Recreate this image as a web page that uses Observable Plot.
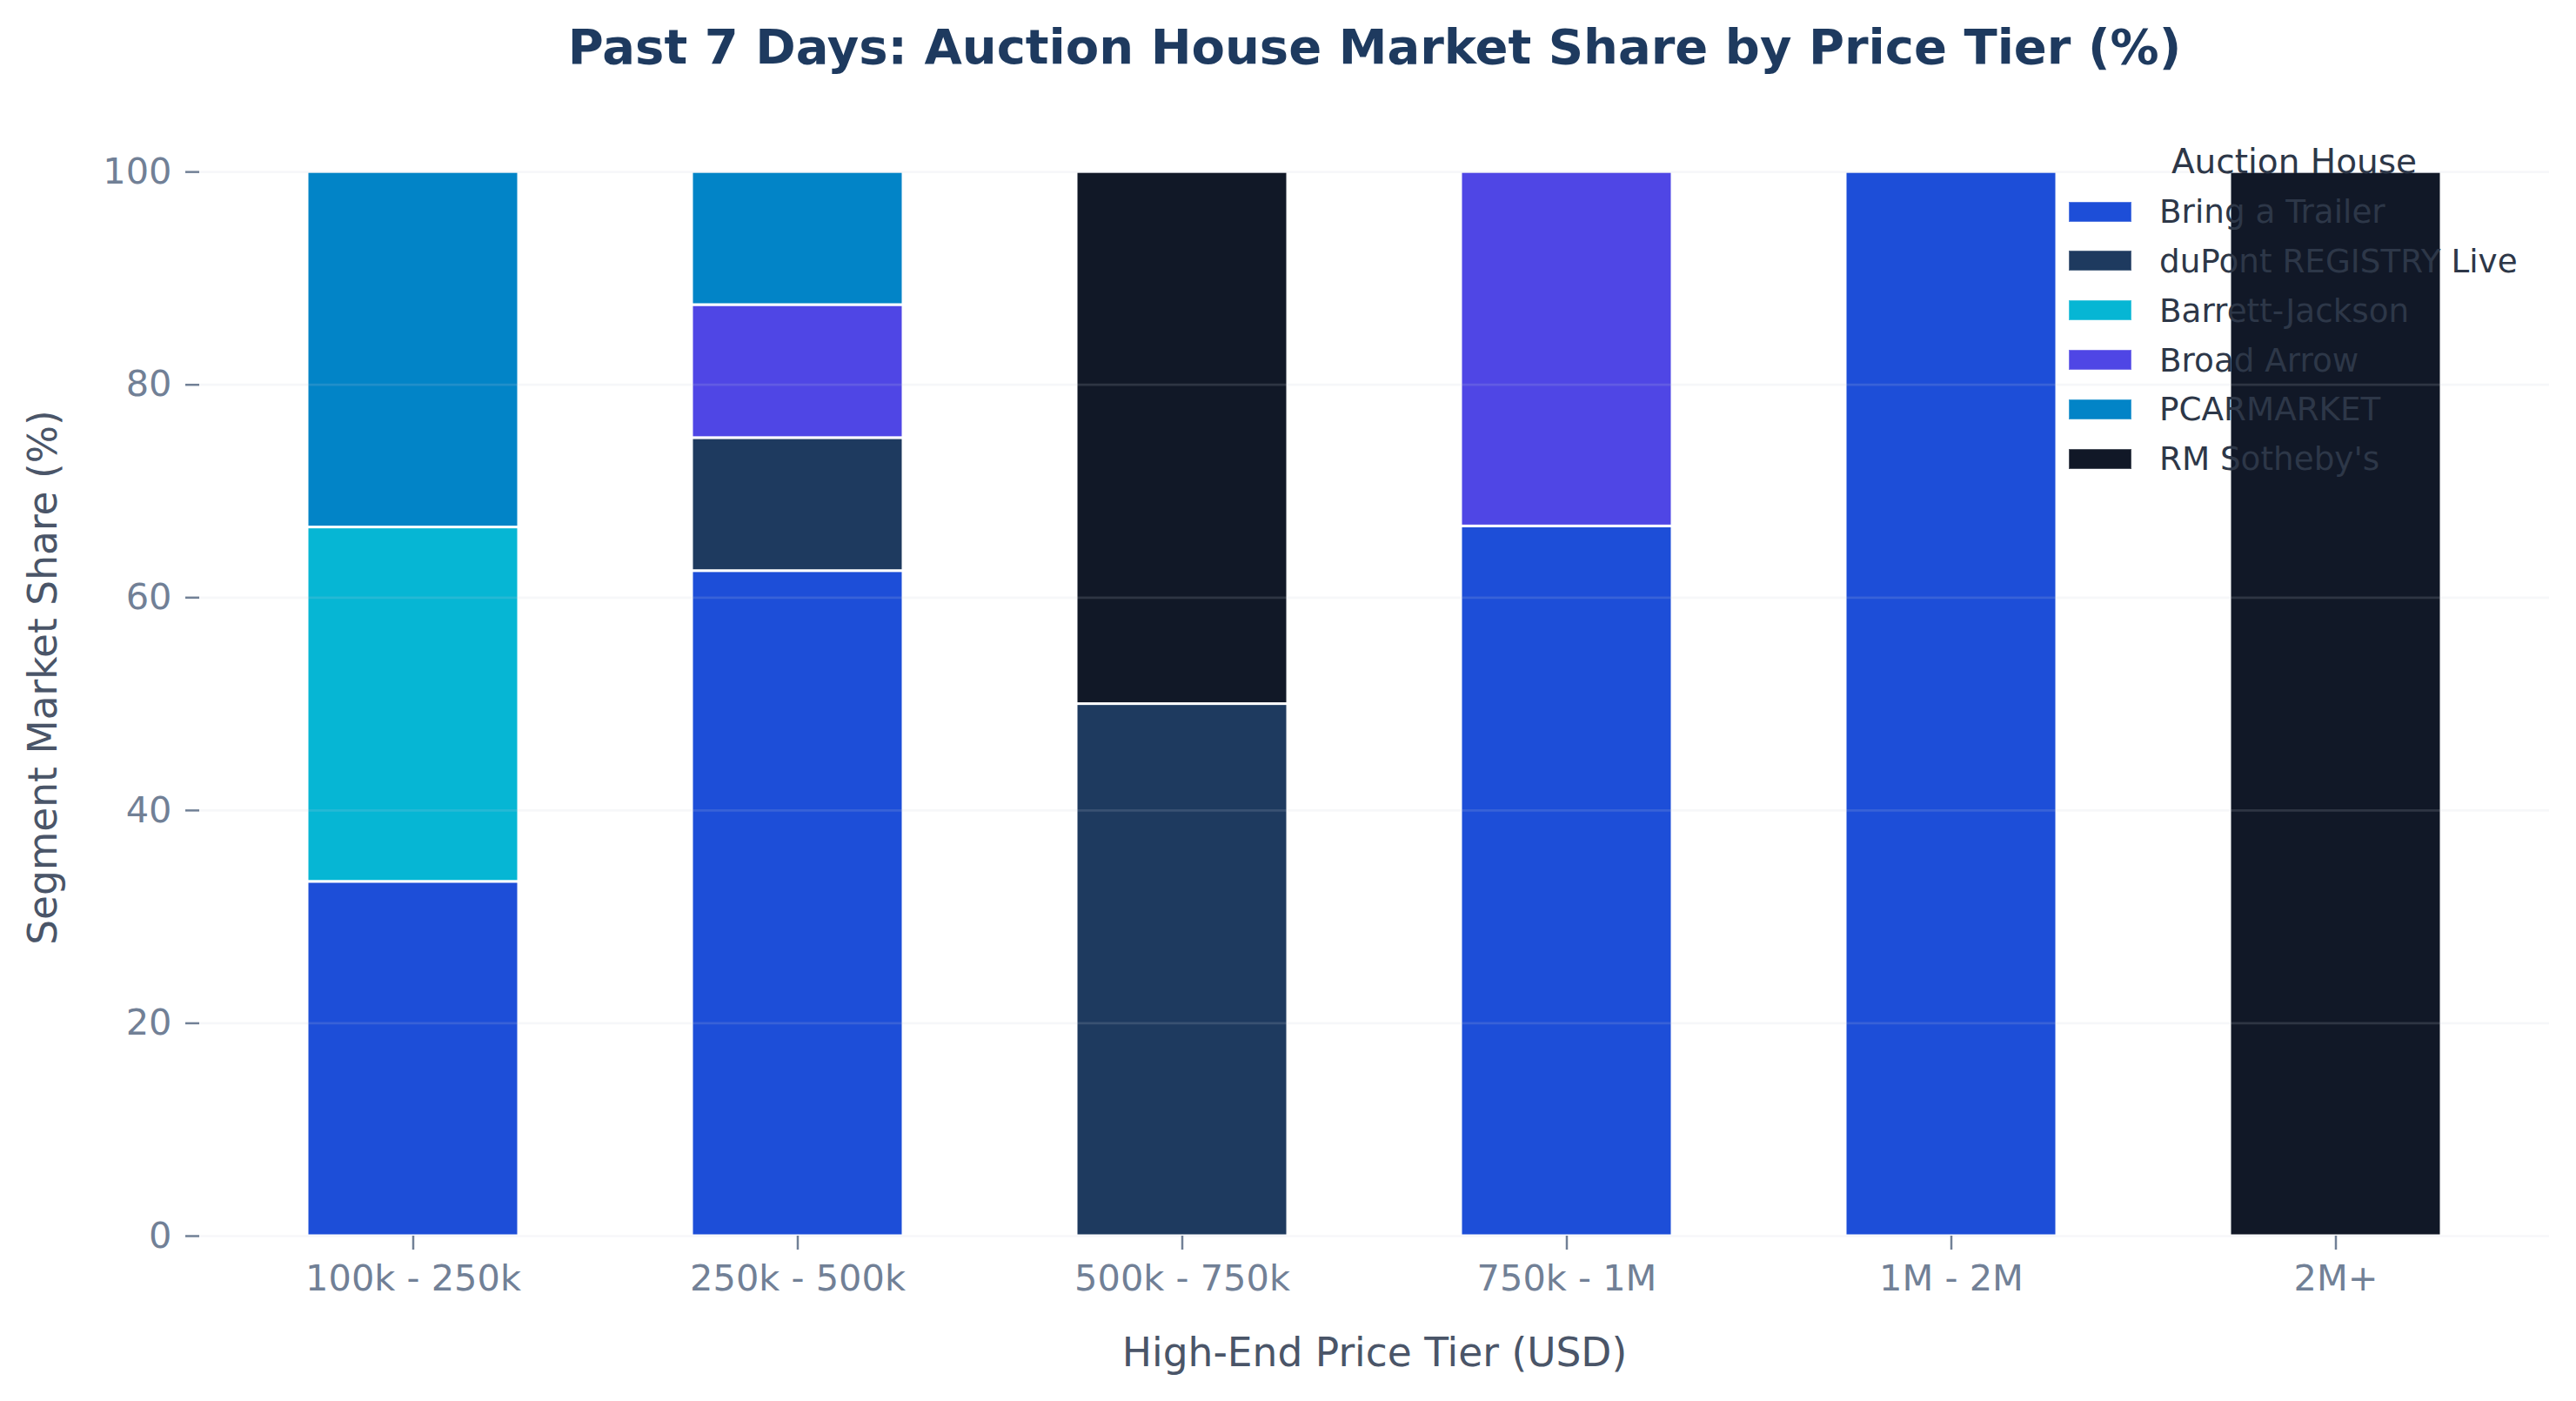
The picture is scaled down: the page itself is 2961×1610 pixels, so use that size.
<!DOCTYPE html>
<html>
<head>
<meta charset="utf-8">
<script src="https://cdn.jsdelivr.net/npm/d3@7"></script>
<script src="https://cdn.jsdelivr.net/npm/@observablehq/plot@0.6"></script>
<style>
  html, body { margin: 0; padding: 0; background: #ffffff; }
  #wrap { position: relative; width: 2961px; height: 1610px; overflow: hidden; font-family: "DejaVu Sans", sans-serif; }
  #legend { position: absolute; left: 2378px; top: 158px; width: 518px; color: #2d3748; font-size: 37.3px; }
  #legend .ttl { height: 56.8px; line-height: 56.8px; text-align: center; white-space: nowrap; font-size: 39px; }
  #legend .row { height: 56.8px; display: flex; align-items: center; white-space: nowrap; }
  #legend .sw { width: 72px; height: 23px; margin-right: 32px; flex: none; box-sizing: border-box; border: 1px solid rgba(255,255,255,0.25); }
</style>
</head>
<body>
<div id="wrap"><div id="chart"></div><div id="legend"></div></div>
<script>
const titleText = "Past 7 Days: Auction House Market Share by Price Tier (%)";
const xLabel = "High-End Price Tier (USD)";
const yLabel = "Segment Market Share (%)";
const legendTitle = "Auction House";

const tiers = ["100k - 250k", "250k - 500k", "500k - 750k", "750k - 1M", "1M - 2M", "2M+"];
const houses = ["Bring a Trailer", "duPont REGISTRY Live", "Barrett-Jackson", "Broad Arrow", "PCARMARKET", "RM Sotheby's"];
const houseColors = ["#1d4ed8", "#1e3a5f", "#06b6d4", "#4f46e5", "#0284c7", "#111827"];

// share (%) per tier, in tier order
const bringATrailer = [33.3, 62.5, 0, 66.7, 100, 0];
const duPontRegistry = [0, 12.5, 50, 0, 0, 0];
const barrettJackson = [33.3, 0, 0, 0, 0, 0];
const broadArrow = [0, 12.5, 0, 33.3, 0, 0];
const pcarmarket = [33.4, 12.5, 0, 0, 0, 0];
const rmSothebys = [0, 0, 50, 0, 0, 100];

const yTicks = [0, 20, 40, 60, 80, 100];

const seriesList = [bringATrailer, duPontRegistry, barrettJackson, broadArrow, pcarmarket, rmSothebys];
const rows = [];
houses.forEach((h, i) => {
  tiers.forEach((t, j) => {
    const v = seriesList[i][j];
    if (v > 0) rows.push({tier: t, house: h, share: v});
  });
});

const chart = Plot.plot({
  width: 2961,
  height: 1610,
  marginTop: 136,
  marginBottom: 190,
  marginLeft: 229,
  marginRight: 31,
  style: {fontFamily: "DejaVu Sans", background: "#ffffff", overflow: "visible"},
  x: {domain: tiers, paddingInner: 0.45, paddingOuter: 0.2775, align: 0.5},
  y: {domain: [0, 105]},
  color: {domain: houses, range: houseColors},
  marks: [
    Plot.barY(rows, {x: "tier", y: "share", fill: "house", stroke: "#ffffff", strokeWidth: 3}),
    Plot.ruleY(yTicks, {stroke: "#c8d0da", strokeOpacity: 0.16, strokeWidth: 2.7}),
    Plot.axisY({ticks: yTicks, tickSize: 16, tickPadding: 16, fontSize: 41.5, color: "#718096", strokeWidth: 2.5, label: null, tickFormat: d => String(d)}),
    Plot.axisX({tickSize: 16, tickPadding: 17, fontSize: 41.5, color: "#718096", strokeWidth: 2.5, label: null}),
    Plot.text([xLabel], {text: d => d, frameAnchor: "bottom", lineAnchor: "bottom", dy: 149, fontSize: 45.5, fill: "#4a5568"}),
    Plot.text([yLabel], {text: d => d, frameAnchor: "left", textAnchor: "middle", rotate: -90, lineAnchor: "bottom", dx: -164.5, fontSize: 45.5, fill: "#4a5568"}),
    Plot.text([titleText], {text: d => d, frameAnchor: "top", lineAnchor: "bottom", dy: -64, fontSize: 56, fontWeight: "bold", fill: "#1e3a5f"})
  ]
});
document.getElementById("chart").appendChild(chart);

const legend = document.getElementById("legend");
const lt = document.createElement("div");
lt.className = "ttl";
lt.textContent = legendTitle;
legend.appendChild(lt);
houses.forEach((h, i) => {
  const row = document.createElement("div");
  row.className = "row";
  const sw = document.createElement("span");
  sw.className = "sw";
  sw.style.background = houseColors[i];
  const tx = document.createElement("span");
  tx.textContent = h;
  row.appendChild(sw);
  row.appendChild(tx);
  legend.appendChild(row);
});
</script>
</body>
</html>
